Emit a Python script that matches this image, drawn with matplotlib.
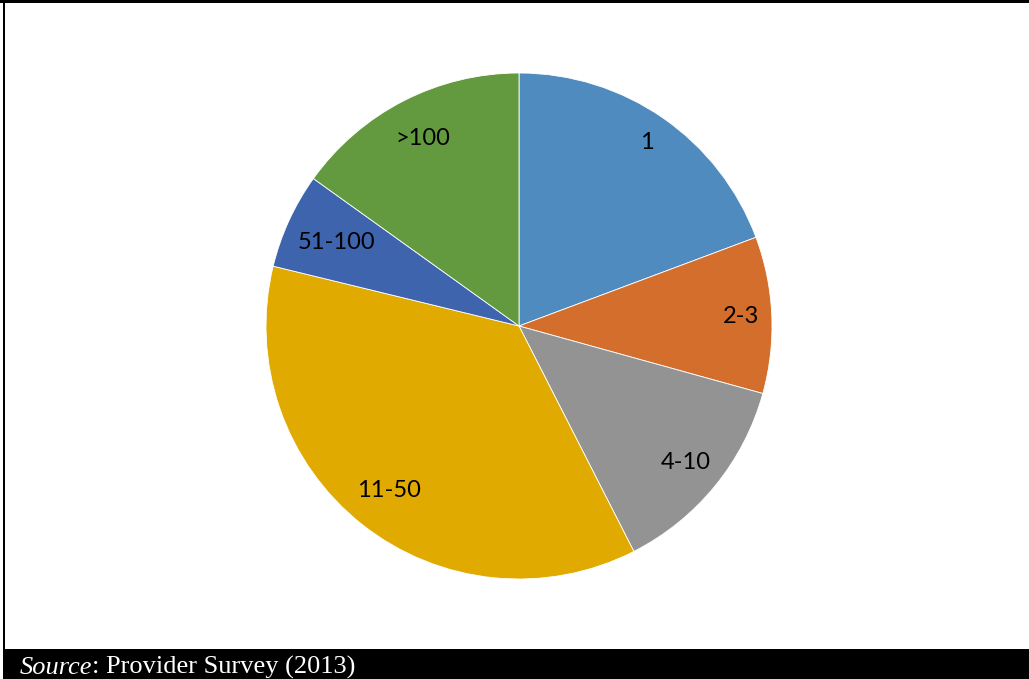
import matplotlib
matplotlib.use("Agg")
import matplotlib.pyplot as plt
from matplotlib.patches import Rectangle

# Data (share of providers by size category, %)
categories = ["1", "2-3", "4-10", "11-50", "51-100", ">100"]
shares = [19.3, 10.0, 13.2, 36.3, 6.1, 15.1]
colors = ["#4F8BBF", "#D46E2C", "#939393", "#E1AA00", "#3D64AD", "#639A3F"]
source_label = "Source"
source_rest = ": Provider Survey (2013)"

# label radial placement (style, relative to pie radius)
label_dist = [0.885, 0.88, 0.85, 0.83, 0.795, 0.835]

W, H = 1029, 679
fig = plt.figure(figsize=(W / 100, H / 100), dpi=100)
fig.patch.set_facecolor("white")

# frame decorations (black strips of the cropped document)
fig.add_artist(Rectangle((0, 1 - 3 / H), 1, 3 / H, transform=fig.transFigure,
                         facecolor="black", edgecolor="none"))
fig.add_artist(Rectangle((3 / W, 0), 2 / W, 1, transform=fig.transFigure,
                         facecolor="black", edgecolor="none"))
fig.add_artist(Rectangle((3 / W, 0), 1, 30 / H, transform=fig.transFigure,
                         facecolor="black", edgecolor="none"))

cx, cy, r = 519, 326, 253
ax = fig.add_axes([(cx - r) / W, (H - cy - r) / H, 2 * r / W, 2 * r / H])
wedges, texts = ax.pie(shares, labels=categories, colors=colors, startangle=90,
                       counterclock=False, labeldistance=0.85, radius=1,
                       wedgeprops=dict(edgecolor="white", linewidth=0.6),
                       textprops=dict(fontsize=17, family="Lato", color="black",
                                      ha="center", va="center"))
for t, d in zip(texts, label_dist):
    x, y = t.get_position()
    t.set_position((x * d / 0.85, y * d / 0.85))
    t.set_ha("center")
    t.set_va("center")

ax.set_xlim(-1, 1)
ax.set_ylim(-1, 1)
ax.set_aspect("equal")
ax.axis("off")

src = fig.text(20 / W, 5 / H, source_label, color="white", fontsize=19,
               family="Liberation Serif", style="italic", ha="left", va="baseline")
fig.canvas.draw()
bb = src.get_window_extent()
fig.text(bb.x1 / W, 5 / H, source_rest, color="white", fontsize=19,
         family="Liberation Serif", ha="left", va="baseline")

fig.savefig("out.png", dpi=100, facecolor="white")
